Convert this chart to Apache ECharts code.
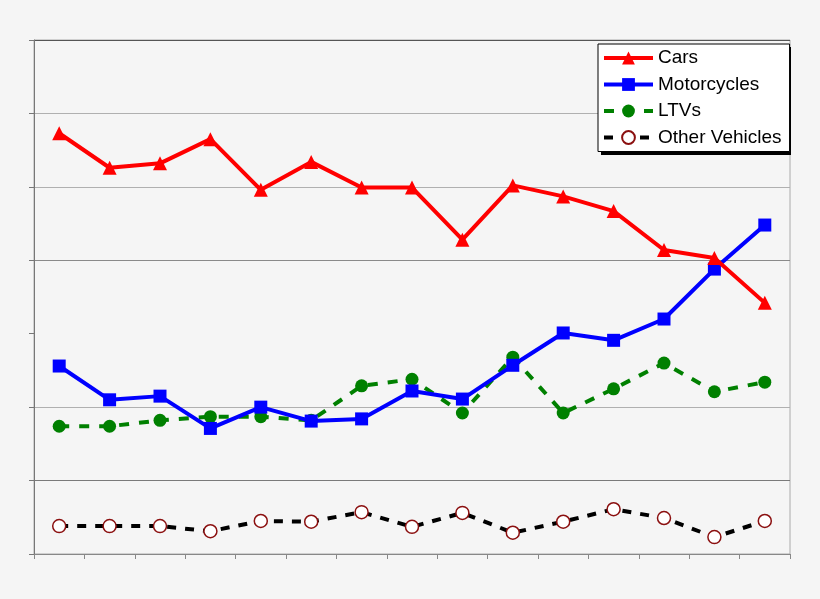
<!DOCTYPE html>
<html>
<head>
<meta charset="utf-8">
<script src="https://cdn.jsdelivr.net/npm/echarts@6/dist/echarts.min.js"></script>
<style>
	html, body { margin: 0; padding: 0; background: #f5f5f5; }
	#chart1 { width: 820px; height: 599px; }
</style>
</head>
<body>
<div id="chart1"></div>
<script>
var categories = ['1', '2', '3', '4', '5', '6', '7', '8', '9', '10', '11', '12', '13', '14', '15'];
var cars = [57.3, 52.6, 53.2, 56.5, 49.6, 53.4, 49.9, 49.9, 42.8, 50.2, 48.7, 46.7, 41.4, 40.3, 34.2];
var motorcycles = [25.6, 21.0, 21.5, 17.1, 20.0, 18.1, 18.4, 22.2, 21.1, 25.7, 30.1, 29.1, 32.0, 38.8, 44.8];
var ltvs = [17.4, 17.4, 18.2, 18.7, 18.7, 18.2, 22.9, 23.8, 19.2, 26.8, 19.2, 22.5, 26.0, 22.1, 23.4];
var others = [3.8, 3.8, 3.8, 3.1, 4.5, 4.4, 5.7, 3.7, 5.6, 2.9, 4.4, 6.1, 4.9, 2.3, 4.5];

(function() {
	var myChart = echarts.init(document.getElementById('chart1'));
	var option = {
		backgroundColor: '#f5f5f5',
		animation: false,
		grid: {
			left: 34, right: 30, top: 40, bottom: 45,
			show: true,
			borderColor: '#aaaaaa',
			borderWidth: 1,
			backgroundColor: 'transparent'
		},
		// solid drop shadow behind the legend box
		graphic: [{
			type: 'rect',
			left: 601, top: 47,
			shape: { width: 190, height: 108 },
			style: { fill: '#000000' },
			z: 1
		}],
		legend: {
			orient: 'vertical',
			left: 598, top: 44,
			padding: [4, 8, 4, 4],
			itemGap: 6.5,
			itemWidth: 49,
			itemHeight: 16,
			backgroundColor: '#ffffff',
			borderColor: '#000000',
			borderWidth: 1,
			borderRadius: 0,
			z: 10,
			lineStyle: { width: 4 },
			textStyle: {
				fontFamily: 'Liberation Sans',
				fontSize: 19,
				lineHeight: 20,
				color: '#000000'
			},
			data: ['Cars', 'Motorcycles', 'LTVs', 'Other Vehicles']
		},
		xAxis: {
			type: 'category',
			data: categories,
			boundaryGap: true,
			axisLine: { lineStyle: { color: '#888888', width: 1 } },
			axisTick: { show: true, length: 5, lineStyle: { color: '#888888' } },
			axisLabel: { show: false },
			splitLine: { show: false }
		},
		yAxis: {
			type: 'value',
			min: 0, max: 70, interval: 10,
			axisLine: { show: true, lineStyle: { color: '#777777', width: 1 } },
			axisTick: { show: true, length: 5, lineStyle: { color: '#777777' } },
			axisLabel: { show: false },
			splitLine: {
				show: true,
				lineStyle: {
					// 0..70, no line at 30 like the original
					color: ['#888888', '#7a7a7a', '#b0b0b0', 'rgba(0,0,0,0)', '#8a8a8a', '#b0b0b0', '#b0b0b0', '#555555'],
					width: 1
				}
			}
		},
		series: [
			{
				name: 'Cars',
				type: 'line',
				data: cars,
				symbol: 'triangle',
				symbolSize: 14,
				color: '#ff0000',
				lineStyle: { width: 4, color: '#ff0000' },
				itemStyle: { color: '#ff0000' },
				z: 5
			},
			{
				name: 'Motorcycles',
				type: 'line',
				data: motorcycles,
				symbol: 'rect',
				symbolSize: 13,
				color: '#0000ff',
				lineStyle: { width: 4, color: '#0000ff' },
				itemStyle: { color: '#0000ff' },
				z: 4
			},
			{
				name: 'LTVs',
				type: 'line',
				data: ltvs,
				symbol: 'circle',
				symbolSize: 13,
				color: '#008000',
				lineStyle: { width: 4, color: '#008000', type: [10, 10] },
				itemStyle: { color: '#008000' },
				z: 3
			},
			{
				name: 'Other Vehicles',
				type: 'line',
				data: others,
				symbol: 'circle',
				symbolSize: 13,
				color: '#000000',
				lineStyle: { width: 4, color: '#000000', type: [9, 9] },
				itemStyle: { color: '#ffffff', borderColor: '#8b1010', borderWidth: 1.5 },
				z: 3
			}
		]
	};
	myChart.setOption(option);
	window.addEventListener("resize", function() {
		myChart.resize();
	});
})();
</script>
</body>
</html>
